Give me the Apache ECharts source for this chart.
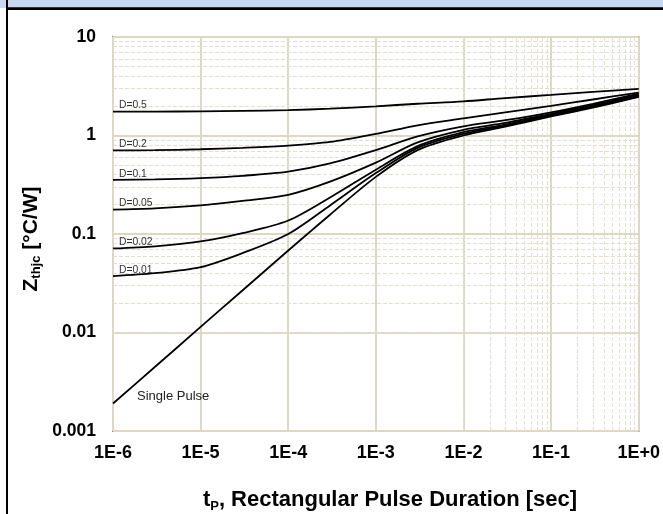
<!DOCTYPE html>
<html><head><meta charset="utf-8">
<script src="https://cdn.jsdelivr.net/npm/echarts@6/dist/echarts.min.js"></script>
<style>html,body{margin:0;padding:0;background:#fff}#c{width:663px;height:514px}</style>
</head><body><div id="c"></div>
<script>
// pulse durations [sec]
const tValues = [1e-6, 3e-6, 1e-5, 3e-5, 1e-4, 3e-4, 1e-3, 3e-3, 1e-2, 3e-2, 1e-1, 3e-1, 1];
// Zthjc [°C/W] for each duty cycle
const zD050 = [1.75, 1.75, 1.76, 1.78, 1.81, 1.87, 1.98, 2.10, 2.22, 2.40, 2.58, 2.77, 2.97];
const zD020 = [0.706, 0.71, 0.725, 0.75, 0.79, 0.86, 1.04, 1.27, 1.49, 1.72, 2.00, 2.32, 2.73];
const zD010 = [0.354, 0.358, 0.37, 0.39, 0.43, 0.52, 0.71, 0.98, 1.24, 1.43, 1.72, 2.10, 2.66];
const zD005 = [0.177, 0.182, 0.195, 0.217, 0.25, 0.34, 0.53, 0.85, 1.14, 1.34, 1.66, 2.03, 2.60];
const zD002 = [0.0713, 0.075, 0.084, 0.102, 0.137, 0.235, 0.45, 0.78, 1.08, 1.29, 1.62, 1.98, 2.55];
const zD001 = [0.0374, 0.040, 0.046, 0.064, 0.10, 0.195, 0.415, 0.75, 1.04, 1.26, 1.59, 1.95, 2.50];
const zSingle = [0.0019, 0.00446, 0.0114, 0.0267, 0.068, 0.157, 0.38, 0.71, 1.00, 1.23, 1.56, 1.92, 2.46];
const curveNames = ['D=0.5', 'D=0.2', 'D=0.1', 'D=0.05', 'D=0.02', 'D=0.01', 'Single Pulse'];
const curveValues = [zD050, zD020, zD010, zD005, zD002, zD001, zSingle];
const xTickLabels = ['1E-6', '1E-5', '1E-4', '1E-3', '1E-2', '1E-1', '1E+0'];
const yTickLabels = ['0.001', '0.01', '0.1', '1', '10'];

const chart = echarts.init(document.getElementById('c'), null, {renderer: 'canvas'});

// minor grid positions 2..9 x 10^k
const xMinor = [], yMinor = [];
for (let k = -6; k <= -1; k++) for (let m = 2; m <= 9; m++) xMinor.push(m * Math.pow(10, k));
for (let k = -3; k <= 0; k++) for (let m = 2; m <= 9; m++) yMinor.push(m * Math.pow(10, k));
const minorData = xMinor.map(v => ({xAxis: v})).concat(yMinor.map(v => ({yAxis: v})));

const FONT = '"Liberation Sans", Arial, sans-serif';

const series = curveValues.map((vals, i) => ({
  name: curveNames[i],
  type: 'line',
  data: tValues.map((t, j) => [t, vals[j]]),
  showSymbol: false,
  smooth: 0.3,
  lineStyle: {color: '#000', width: 1.8},
  z: 5,
  silent: true
}));
series.push({
  type: 'line',
  data: [],
  silent: true,
  z: 1,
  markLine: {
    silent: true,
    symbol: 'none',
    animation: false,
    label: {show: false},
    lineStyle: {color: '#e2dfcf', width: 1, type: [4, 2]},
    data: minorData
  }
});

chart.setOption({
  animation: false,
  backgroundColor: '#fff',
  grid: {left: 113, top: 37, right: 22, bottom: 83, show: true, borderColor: '#333', borderWidth: 1.5, backgroundColor: '#fff'},
  xAxis: {
    type: 'log', logBase: 10, min: 1e-6, max: 1, splitNumber: 6,
    axisLine: {show: false}, axisTick: {show: false},
    axisLabel: {fontFamily: FONT, fontWeight: 'bold', fontSize: 18, color: '#000', margin: 13,
      formatter: v => xTickLabels[Math.round(Math.log10(v)) + 6]},
    splitLine: {show: true, lineStyle: {color: '#ddd8c3', width: 2}},
    minorSplitLine: {show: false}
  },
  yAxis: {
    type: 'log', logBase: 10, min: 0.001, max: 10, splitNumber: 4,
    axisLine: {show: false}, axisTick: {show: false},
    axisLabel: {fontFamily: FONT, fontWeight: 'bold', fontSize: 17.5, color: '#000', margin: 17,
      formatter: v => yTickLabels[Math.round(Math.log10(v)) + 3]},
    splitLine: {show: true, lineStyle: {color: '#ddd8c3', width: 2}}
  },
  series: series
});

// frame, titles, curve labels
const g = [
  {type: 'rect', shape: {x: 0, y: 0, width: 663, height: 8}, style: {fill: '#c6d9f1'}, z: 100},
  {type: 'rect', shape: {x: 6, y: 7.3, width: 657, height: 2.7}, style: {fill: '#000'}, z: 101},
  {type: 'rect', shape: {x: 6, y: 0, width: 2, height: 514}, style: {fill: '#000'}, z: 101},
  {type: 'text', x: 390, y: 500, z: 50, style: {
    text: '{t|t}{s|P}{t|, Rectangular Pulse Duration [sec]}', align: 'center', verticalAlign: 'middle',
    rich: {
      t: {fontFamily: FONT, fontWeight: 'bold', fontSize: 22, fill: '#000', lineHeight: 25},
      s: {fontFamily: FONT, fontWeight: 'bold', fontSize: 13, fill: '#000', verticalAlign: 'bottom', lineHeight: 16}
    }}},
  {type: 'text', x: 31, y: 239, rotation: Math.PI / 2, z: 50, style: {
    text: '{t|Z}{s|thjc}{t| [°C/W]}', align: 'center', verticalAlign: 'middle',
    rich: {
      t: {fontFamily: FONT, fontWeight: 'bold', fontSize: 21, fill: '#000', lineHeight: 24},
      s: {fontFamily: FONT, fontWeight: 'bold', fontSize: 13, fill: '#000', verticalAlign: 'bottom', lineHeight: 16}
    }}}
];
for (let i = 0; i < 6; i++) {
  const p = chart.convertToPixel({gridIndex: 0}, [tValues[0], curveValues[i][0]]);
  g.push({type: 'text', x: 119, y: p[1] - 6, style: {text: curveNames[i], fontFamily: FONT, fontSize: 10.3, fill: '#333', verticalAlign: 'middle', align: 'left'}, z: 50});
}
const ps = chart.convertToPixel({gridIndex: 0}, [tValues[0], zSingle[0]]);
g.push({type: 'text', x: 137, y: ps[1] - 7, style: {text: 'Single Pulse', fontFamily: FONT, fontSize: 13, fill: '#222', verticalAlign: 'middle', align: 'left'}, z: 50});
chart.setOption({graphic: g});
</script></body></html>
